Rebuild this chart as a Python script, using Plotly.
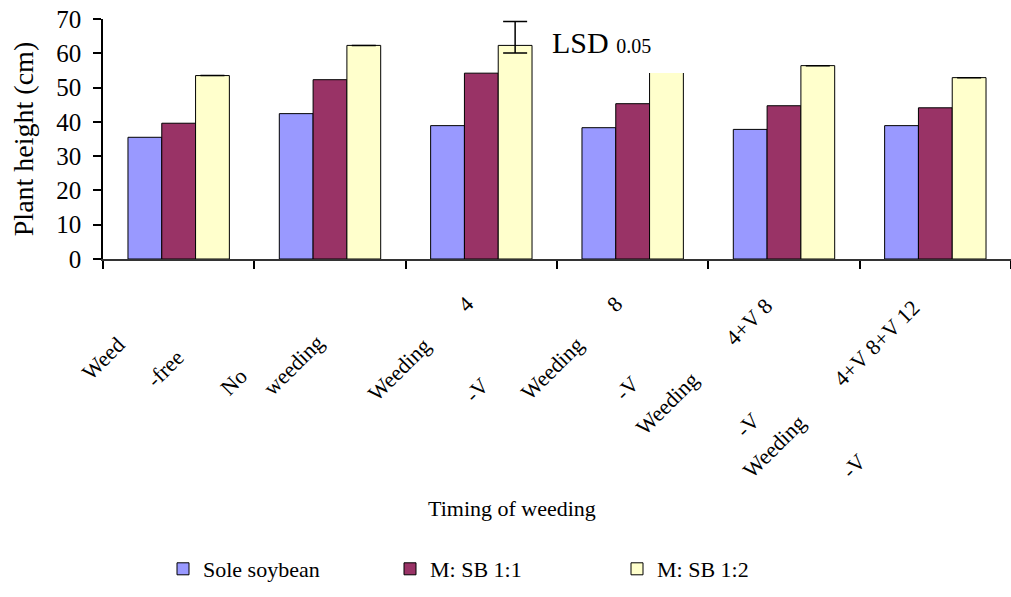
import plotly.graph_objects as go

categories = ["Weed-free", "No weeding", "Weeding V4", "Weeding V8",
              "Weeding V4+V8", "Weeding V4+V8+V12"]
sole_soybean = [35.5, 42.4, 38.9, 38.3, 37.8, 38.9]
msb_1_1 = [39.6, 52.3, 54.2, 45.3, 44.7, 44.1]
msb_1_2 = [53.5, 62.3, 62.3, 58.0, 56.4, 52.9]
lsd_plus = [None, None, 7.0, None, None, None]
lsd_minus = [None, None, 2.2, None, None, None]

# garbled x label fragments as they appear in the source (text, x px, y px)
label_fragments = [
    ("Weed", 103, 358), ("-free", 165, 368), ("No", 233, 382), ("weeding", 293, 365),
    ("Weeding", 399, 369), ("4", 465, 304), ("-V", 476, 390),
    ("Weeding", 552, 368), ("8", 614, 304), ("-V", 627, 389),
    ("Weeding", 667, 403), ("4+V 8", 748, 322), ("-V", 747, 425),
    ("Weeding", 774, 446), ("4+V 8+V 12", 876, 343), ("-V", 853, 466),
]

FONT = "Liberation Serif, Times New Roman, serif"
L, R, T, B = 103, 0, 19, 338
W, H = 1011, 597
PW, PH = W - L - R, H - T - B

def px(x):
    return (x - L) / PW

def py(y):
    return (T + PH - y) / PH

fig = go.Figure()
fig.add_bar(x=categories, y=sole_soybean, name="Sole soybean",
            marker=dict(color="#9999FF", line=dict(color="black", width=1)))
fig.add_bar(x=categories, y=msb_1_1, name="M: SB 1:1",
            marker=dict(color="#993366", line=dict(color="black", width=1)))
fig.add_bar(x=categories, y=msb_1_2, name="M: SB 1:2",
            marker=dict(color="#FFFFCC", line=dict(color="black", width=1)),
            error_y=dict(type="data", symmetric=False, array=lsd_plus,
                         arrayminus=lsd_minus, color="black", thickness=1.5, width=12))

annotations = []
for txt, x, y in label_fragments:
    annotations.append(dict(text=txt, x=px(x), y=py(y), xref="paper", yref="paper",
                            xanchor="center", yanchor="middle", textangle=-45,
                            showarrow=False, font=dict(family=FONT, size=22, color="black")))
annotations.append(dict(text="Timing of weeding", x=px(512), y=py(508), xref="paper", yref="paper",
                        xanchor="center", yanchor="middle", showarrow=False,
                        font=dict(family=FONT, size=22, color="black")))
annotations.append(dict(text="LSD <span style='font-size:20px'>0.05</span>", x=px(550), y=py(42),
                        xref="paper", yref="paper", xanchor="left", yanchor="middle",
                        showarrow=False, font=dict(family=FONT, size=30, color="black")))

fig.update_layout(
    width=W, height=H,
    margin=dict(l=L, r=R, t=T, b=B),
    paper_bgcolor="white", plot_bgcolor="white",
    barmode="group", bargap=0.33, bargroupgap=0,
    font=dict(family=FONT, color="black", size=22),
    showlegend=True,
    legend=dict(orientation="h", x=px(163), y=py(569), xanchor="left", yanchor="middle",
                font=dict(family=FONT, size=22, color="black"),
                entrywidth=182, entrywidthmode="pixels", itemwidth=30,
                traceorder="normal"),
    xaxis=dict(showticklabels=False, tickson="boundaries", ticks="outside", ticklen=8,
               tickcolor="black", tickwidth=1.5, showline=True, linecolor="#333",
               linewidth=1.5, showgrid=False, zeroline=False),
    yaxis=dict(range=[0, 70], dtick=10, ticks="outside", ticklen=8, tickcolor="black",
               tickwidth=1.5, showline=True, linecolor="black", linewidth=1.5,
               showgrid=False, zeroline=False, ticklabelstandoff=7,
               tickfont=dict(family=FONT, size=25, color="black"),
               title=dict(text="Plant height (cm)", standoff=14,
                          font=dict(family=FONT, size=28, color="black"))),
    annotations=annotations,
    shapes=[dict(type="rect", xref="paper", yref="paper", x0=px(534), x1=px(690),
                 y0=py(73), y1=py(0), fillcolor="white", line=dict(width=0), layer="above")],
)

fig.write_html("out.html")
